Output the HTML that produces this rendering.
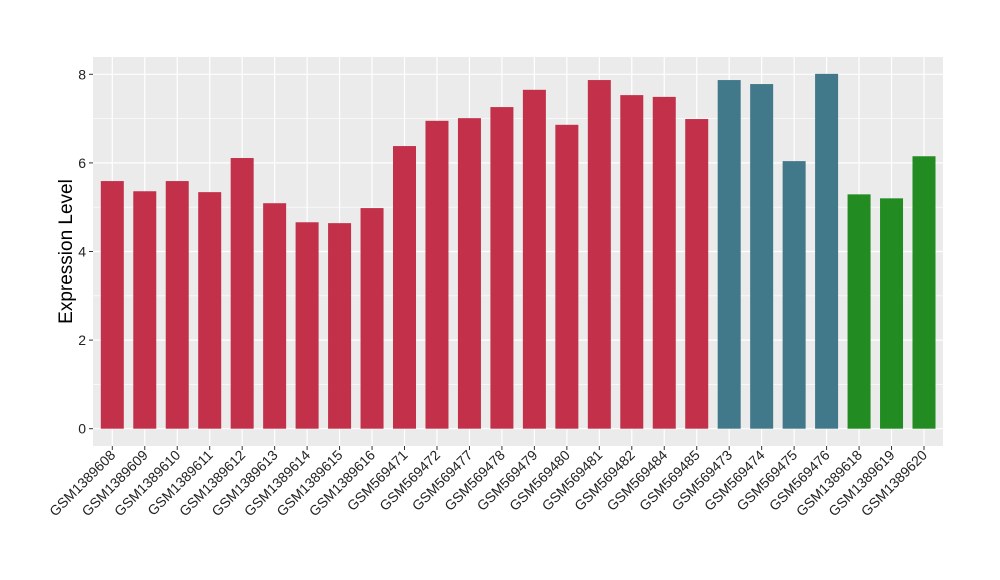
<!DOCTYPE html>
<html><head><meta charset="utf-8"><style>body{margin:0;background:#fff}svg{display:block}text{font-family:"Liberation Sans",sans-serif}</style></head>
<body>
<svg id="chart" width="1000" height="580"></svg>
<script>
const categories=["GSM1389608","GSM1389609","GSM1389610","GSM1389611","GSM1389612","GSM1389613","GSM1389614","GSM1389615","GSM1389616","GSM569471","GSM569472","GSM569477","GSM569478","GSM569479","GSM569480","GSM569481","GSM569482","GSM569484","GSM569485","GSM569473","GSM569474","GSM569475","GSM569476","GSM1389618","GSM1389619","GSM1389620"];
const values=[5.59,5.36,5.59,5.34,6.11,5.09,4.66,4.64,4.98,6.38,6.95,7.01,7.26,7.65,6.86,7.87,7.53,7.49,6.99,7.87,7.78,6.04,8.01,5.29,5.20,6.15];
const groups=[0,0,0,0,0,0,0,0,0,0,0,0,0,0,0,0,0,0,0,1,1,1,1,2,2,2];
const groupColors=["#c33049","#41788a","#228b22"];
const yTicks=[0,2,4,6,8];
const NS="http://www.w3.org/2000/svg";
const svg=document.getElementById('chart');
const L=93,R=943,T=57,B=446,y0=428.7,ppu=44.3;
const first=112.3,step=(924-112.3)/25,bw=23;
const y=v=>y0-v*ppu, x=i=>first+i*step;
function mk(t,a,p){const e=document.createElementNS(NS,t);for(const k in a)e.setAttribute(k,a[k]);(p||svg).appendChild(e);return e;}
const panel=mk('rect',{x:L,y:T,width:R-L,height:B-T,fill:'#ebebeb'});


yTicks.forEach((v,i)=>{
 if(i<yTicks.length-1){const m=mk('line',{x1:L,x2:R,y1:y(v+1),y2:y(v+1),stroke:'#fff','stroke-width':0.6});
 
 }
 const g=mk('line',{x1:L,x2:R,y1:y(v),y2:y(v),stroke:'#fff','stroke-width':1.2});
 
 
 const tk=mk('line',{x1:L-4,x2:L,y1:y(v),y2:y(v),stroke:'#333'});
 
 
 const t=mk('text',{x:L-7,y:y(v)+5,'text-anchor':'end','font-size':14,fill:'#222'});
 t.textContent=v;
 
 
});
categories.forEach((c,i)=>{
 const g=mk('line',{x1:x(i),x2:x(i),y1:T,y2:B,stroke:'#fff','stroke-width':1.2});
 
 
});
categories.forEach((c,i)=>{
 const b=mk('rect',{x:x(i)-bw/2,y:y(values[i]),width:bw,height:y(0)-y(values[i]),fill:groupColors[groups[i]]});
 
 
 const tk=mk('line',{x1:x(i),x2:x(i),y1:B,y2:B+4,stroke:'#333'});
 
 
 const t=mk('text',{x:x(i)+4,y:B+10,'text-anchor':'end','font-size':14,fill:'#222',transform:`rotate(-45 ${x(i)+4} ${B+10})`});
 t.textContent=c;
 
 
});
const yt=mk('text',{x:72,y:(T+B)/2,'text-anchor':'middle','font-size':19,fill:'#000',transform:`rotate(-90 72 ${(T+B)/2})`});
yt.textContent='Expression Level';


</script>
</body></html>
